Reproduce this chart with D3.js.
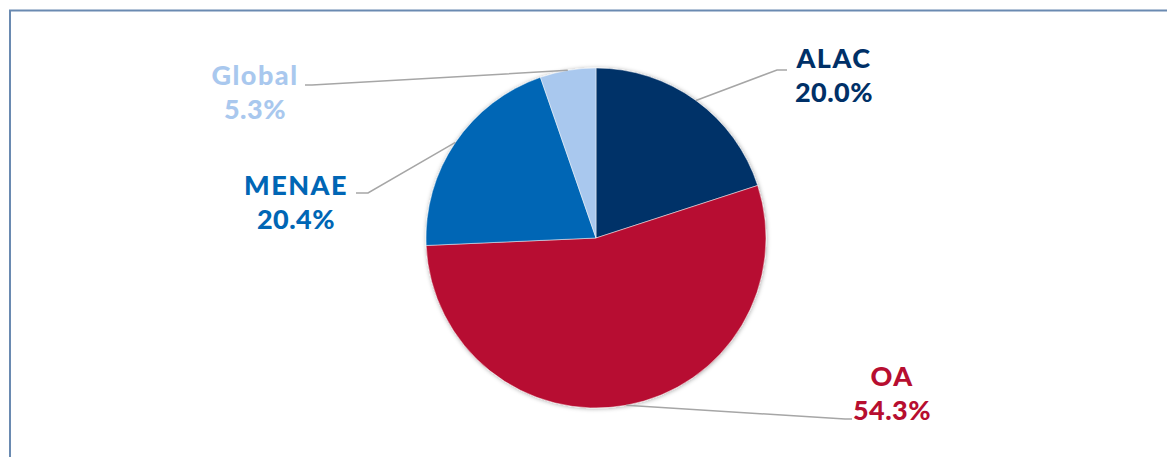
<!DOCTYPE html>
<html>
<head>
<meta charset="utf-8">
<script src="https://cdn.jsdelivr.net/npm/d3@7"></script>
<style>
  html, body { margin: 0; padding: 0; background: #fff; }
  svg { display: block; }
  text { font-family: "Lato", "Noto Sans", sans-serif; font-weight: 900; }
</style>
</head>
<body>
<svg id="chart" width="1167" height="457"></svg>
<script>
// Share of the total by region, clockwise from 12 o'clock
const categories = ["ALAC", "OA", "MENAE", "Global"];
const shares = [20.0, 54.3, 20.4, 5.3];
const labelsPct = ["20.0%", "54.3%", "20.4%", "5.3%"];
const sliceColors = ["#003067", "#B70E30", "#0066B5", "#A9C8EE"];

// Where each label block sits, and where its leader line meets it
const labelLayout = {
  ALAC:   { x: 834, y: 68,  elbow: [777, 70],  end: [787, 70] },
  OA:     { x: 892, y: 386, elbow: [845, 419], end: [852, 419] },
  MENAE:  { x: 296, y: 195, elbow: [368, 193], end: [356, 193] },
  Global: { x: 255, y: 85,  elbow: [312, 85],  end: [305, 85] }
};

const W = 1167, H = 457;
const cx = 596, cy = 238, R = 170;

const svg = d3.select("#chart");

// frame
svg.append("rect")
  .attr("x", 10).attr("y", 10.5)
  .attr("width", W + 20).attr("height", H + 20)
  .attr("fill", "none")
  .attr("stroke", "#6A8AB1")
  .attr("stroke-width", 2);

const defs = svg.append("defs");
const f = defs.append("filter").attr("id", "pieShadow")
  .attr("x", "-10%").attr("y", "-10%").attr("width", "120%").attr("height", "120%");
f.append("feDropShadow")
  .attr("dx", 0.5).attr("dy", 0.5)
  .attr("stdDeviation", 2.2)
  .attr("flood-color", "#000")
  .attr("flood-opacity", 0.35);

const data = categories.map((c, i) => ({ name: c, value: shares[i], pct: labelsPct[i], color: sliceColors[i] }));

const pie = d3.pie().sort(null).value(d => d.value);
const arcs = pie(data);
const arc = d3.arc().innerRadius(0).outerRadius(R);
const edgeArc = d3.arc().innerRadius(R).outerRadius(R);

const g = svg.append("g").attr("transform", `translate(${cx},${cy})`);

g.append("g").attr("filter", "url(#pieShadow)")
  .selectAll("path")
  .data(arcs)
  .join("path")
  .attr("d", arc)
  .attr("fill", d => d.data.color)
  .attr("stroke", "#ffffff")
  .attr("stroke-opacity", 0.6)
  .attr("stroke-width", 0.8);

// leader lines: from the slice's outer edge midpoint to the label
const line = d3.line();
svg.append("g").selectAll("path")
  .data(arcs)
  .join("path")
  .attr("d", d => {
    const p = edgeArc.centroid(d);
    const L = labelLayout[d.data.name];
    return line([[cx + p[0], cy + p[1]], L.elbow, L.end]);
  })
  .attr("fill", "none")
  .attr("stroke", "#A6A6A6")
  .attr("stroke-width", 1.5);

// labels
const lab = svg.append("g").selectAll("text")
  .data(arcs)
  .join("text")
  .attr("text-anchor", "middle")
  .attr("fill", d => d.data.color)
  .attr("font-size", 27);

lab.append("tspan")
  .attr("x", d => labelLayout[d.data.name].x)
  .attr("y", d => labelLayout[d.data.name].y)
  .attr("letter-spacing", 1.5)
  .text(d => d.data.name);
lab.append("tspan")
  .attr("x", d => labelLayout[d.data.name].x)
  .attr("y", d => labelLayout[d.data.name].y + 34)
  .attr("letter-spacing", 0.5)
  .text(d => d.data.pct);
</script>
</body>
</html>
